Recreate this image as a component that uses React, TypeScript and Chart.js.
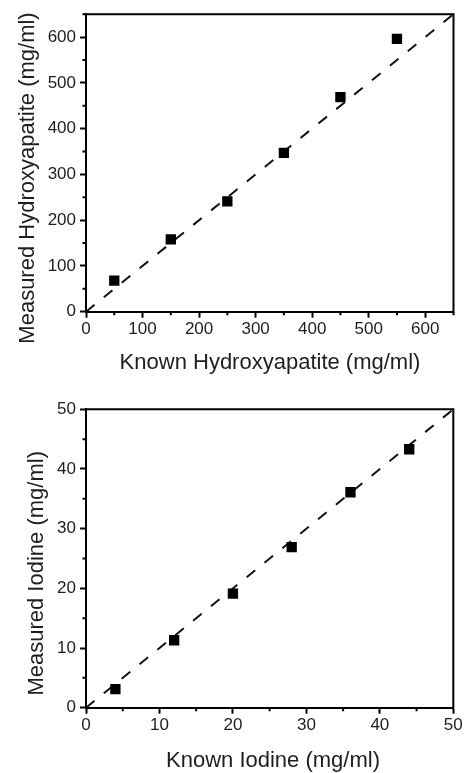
import React, { useEffect, useRef } from "react";
import { Chart, registerables } from "chart.js";

Chart.register(...registerables);

// ---- Hydroxyapatite panel data ----
const hapKnown = [50, 150, 250, 350, 450, 550];
const hapMeasured = [68, 158, 241, 347, 469, 596];
const hapTicks = [0, 100, 200, 300, 400, 500, 600];
const hapMinorTicks = [50, 150, 250, 350, 450, 550, 650];
const hapMax = 650;
const hapXTitle = "Known Hydroxyapatite (mg/ml)";
const hapYTitle = "Measured Hydroxyapatite (mg/ml)";

// ---- Iodine panel data ----
const iodKnown = [4, 12, 20, 28, 36, 44];
const iodMeasured = [3.1, 11.3, 19.1, 26.9, 36.1, 43.3];
const iodTicks = [0, 10, 20, 30, 40, 50];
const iodMinorTicks = [5, 15, 25, 35, 45];
const iodMax = 50;
const iodXTitle = "Known Iodine (mg/ml)";
const iodYTitle = "Measured Iodine (mg/ml)";

const FONT = "'Liberation Sans', Arial, Helvetica, sans-serif";
const TEXT = "#1e1e1e";

type PanelProps = {
  top: number;
  width: number;
  height: number;
  known: number[];
  measured: number[];
  ticks: number[];
  minor: number[];
  max: number;
  xTitle: string;
  yTitle: string;
  padTop: number;
  padRight: number;
  yWidth: number;
  xHeight: number;
  xTitleX: number;
  xTitleBaseline: number;
  yTitleBaseline: number;
  yTitleCenter: number;
};

function Panel(p: PanelProps) {
  const ref = useRef<HTMLCanvasElement>(null);

  useEffect(() => {
    if (!ref.current) return;
    const points = p.known.map((k, i) => ({ x: k, y: p.measured[i] }));
    const identity = [
      { x: 0, y: 0 },
      { x: p.max, y: p.max },
    ];

    const extras = {
      id: "boxExtras",
      beforeDatasetsDraw(chart: any) {
        const { ctx, chartArea: a, scales } = chart;
        ctx.save();
        ctx.strokeStyle = "#000";
        ctx.lineWidth = 2;
        ctx.beginPath();
        ctx.moveTo(a.left - 1, a.top);
        ctx.lineTo(a.right, a.top);
        ctx.lineTo(a.right, a.bottom + 1);
        ctx.stroke();
        const minorLen = 3.5;
        ctx.lineWidth = 2;
        ctx.beginPath();
        for (const v of p.minor) {
          const x = scales.x.getPixelForValue(v);
          ctx.moveTo(x, a.bottom);
          ctx.lineTo(x, a.bottom + minorLen);
          const y = scales.y.getPixelForValue(v);
          ctx.moveTo(a.left, y);
          ctx.lineTo(a.left - minorLen, y);
        }
        ctx.stroke();
        ctx.restore();
      },
      afterDraw(chart: any) {
        const { ctx } = chart;
        ctx.save();
        ctx.fillStyle = TEXT;
        ctx.font = `22px ${FONT}`;
        ctx.textAlign = "center";
        ctx.textBaseline = "alphabetic";
        ctx.fillText(p.xTitle, p.xTitleX, p.xTitleBaseline);
        ctx.translate(p.yTitleBaseline, p.yTitleCenter);
        ctx.rotate(-Math.PI / 2);
        ctx.fillText(p.yTitle, 0, 0);
        ctx.restore();
      },
    };

    const tickValues = p.ticks;
    const chart = new Chart(ref.current, {
      type: "scatter",
      data: {
        datasets: [
          {
            label: "measured",
            data: points,
            showLine: false,
            pointStyle: "rect",
            pointRadius: 7.3,
            pointHoverRadius: 7.3,
            pointBorderWidth: 0,
            backgroundColor: "#000",
            borderColor: "#000",
            order: 0,
          },
          {
            label: "identity",
            data: identity,
            showLine: true,
            pointRadius: 0,
            borderColor: "#111",
            borderWidth: 2,
            borderDash: [11, 12],
            fill: false,
            order: 1,
          },
        ],
      },
      options: {
        responsive: false,
        animation: false,
        devicePixelRatio: 1,
        layout: { padding: { top: p.padTop, right: p.padRight, left: 0, bottom: 0 } },
        plugins: { legend: { display: false }, tooltip: { enabled: false } },
        events: [],
        scales: {
          x: {
            type: "linear",
            min: 0,
            max: p.max,
            afterBuildTicks: (s: any) => {
              s.ticks = tickValues.map((v) => ({ value: v }));
            },
            afterFit: (s: any) => {
              s.height = p.xHeight;
            },
            ticks: {
              font: { family: FONT, size: 17 },
              color: TEXT,
              padding: 1,
              maxRotation: 0,
              autoSkip: false,
            },
            grid: {
              display: true,
              drawOnChartArea: false,
              drawTicks: true,
              tickLength: 6,
              tickWidth: 2,
              tickColor: "#000",
            },
            border: { display: true, color: "#000", width: 2 },
          },
          y: {
            type: "linear",
            min: 0,
            max: p.max,
            afterBuildTicks: (s: any) => {
              s.ticks = tickValues.map((v) => ({ value: v }));
            },
            afterFit: (s: any) => {
              s.width = p.yWidth;
            },
            ticks: {
              font: { family: FONT, size: 17 },
              color: TEXT,
              padding: 4,
              autoSkip: false,
            },
            grid: {
              display: true,
              drawOnChartArea: false,
              drawTicks: true,
              tickLength: 6,
              tickWidth: 2,
              tickColor: "#000",
            },
            border: { display: true, color: "#000", width: 2 },
          },
        },
      },
      plugins: [extras],
    } as any);
    return () => chart.destroy();
  }, []);

  return (
    <canvas
      ref={ref}
      width={p.width}
      height={p.height}
      style={{ position: "absolute", left: 0, top: p.top, width: p.width, height: p.height, display: "block" }}
    />
  );
}

export default function App() {
  return (
    <div style={{ position: "absolute", left: 0, top: 0, width: 464, height: 773, background: "#fff" }}>
      <Panel
        top={0}
        width={464}
        height={386}
        known={hapKnown}
        measured={hapMeasured}
        ticks={hapTicks}
        minor={hapMinorTicks}
        max={hapMax}
        xTitle={hapXTitle}
        yTitle={hapYTitle}
        padTop={13}
        padRight={10.5}
        yWidth={86}
        xHeight={74.3}
        xTitleX={270}
        xTitleBaseline={368.5}
        yTitleBaseline={33.5}
        yTitleCenter={178}
      />
      <Panel
        top={386}
        width={464}
        height={387}
        known={iodKnown}
        measured={iodMeasured}
        ticks={iodTicks}
        minor={iodMinorTicks}
        max={iodMax}
        xTitle={iodXTitle}
        yTitle={iodYTitle}
        padTop={23.3}
        padRight={10.7}
        yWidth={86}
        xHeight={65.3}
        xTitleX={273}
        xTitleBaseline={380.5}
        yTitleBaseline={43.3}
        yTitleCenter={187.3}
      />
    </div>
  );
}
